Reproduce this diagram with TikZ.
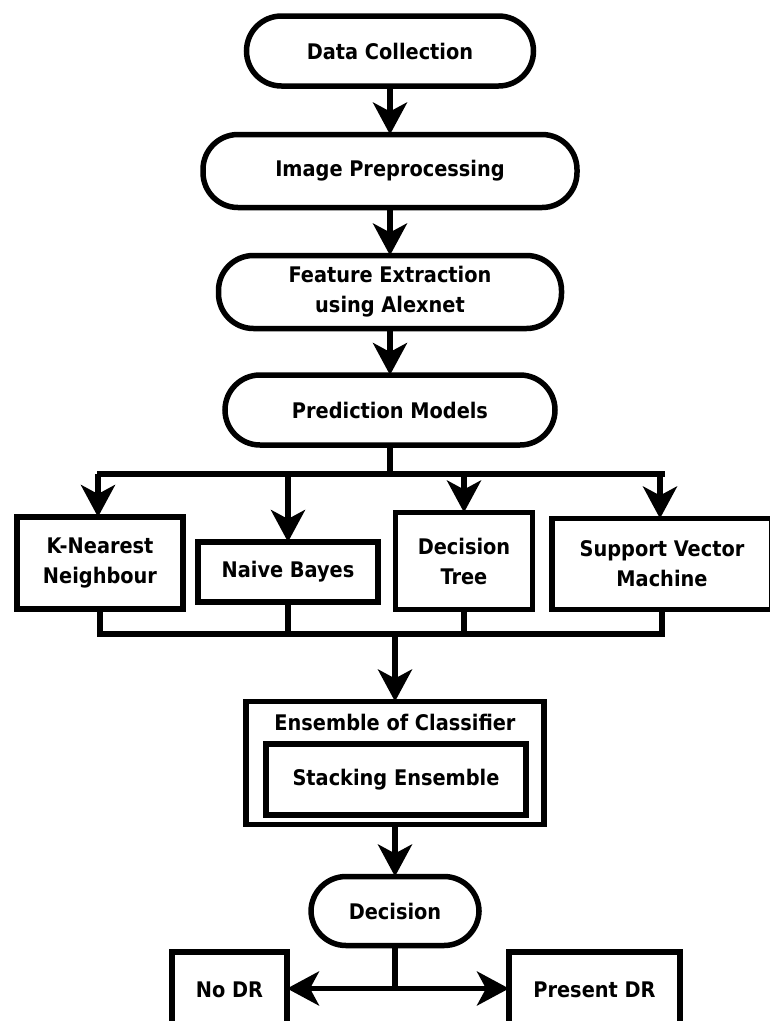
\documentclass[tikz,border=0pt]{standalone}
\usepackage{fontspec}
\setmainfont{DejaVu Sans Condensed}
\usetikzlibrary{arrows.meta}
\begin{document}
\begin{tikzpicture}[x=1pt,y=1pt,
  every node/.style={font=\bfseries\fontsize{21.5}{30}\selectfont, align=center, inner sep=0pt, outer sep=0pt},
  lw/.style={line width=5.5pt},
  stadium/.style={lw, draw, rectangle, rounded corners=35pt},
  boxx/.style={lw, draw, rectangle},
  arr/.style={lw, -{Stealth[length=32pt,width=34pt,inset=9pt]}},
  ln/.style={lw}
]
\useasboundingbox (0,0) rectangle (770,-1021);
\clip (0,0) rectangle (770,-1021);

\node[stadium, minimum width=287pt, minimum height=70pt] (dc) at (390,-51) {Data Collection};
\node[stadium, minimum width=374pt, minimum height=73pt] (ip) at (390,-171) {Image Preprocessing};
\node[stadium, minimum width=343pt, minimum height=73pt] (fe) at (390,-292) {Feature Extraction\\using Alexnet};
\node[stadium, minimum width=330pt, minimum height=70pt] (pm) at (390,-410) {Prediction Models};

\node[boxx, minimum width=166pt, minimum height=92pt] (knn) at (100,-563) {K-Nearest\\Neighbour};
\node[boxx, minimum width=180pt, minimum height=60pt] (nb) at (288,-572) {Naive Bayes};
\node[boxx, minimum width=137pt, minimum height=97pt] (dt) at (464,-561) {Decision\\Tree};
\node[boxx, minimum width=220pt, minimum height=91pt] (svm) at (662,-564) {Support Vector\\Machine};

\node[boxx, minimum width=298pt, minimum height=123pt] (ens) at (395,-763) {};
\node (enst) at (395,-722) {Ensemble of Classifier};
\node[boxx, minimum width=260pt, minimum height=71pt] (stk) at (396,-779.5) {Stacking Ensemble};

\node[stadium, minimum width=168pt, minimum height=69pt] (dec) at (395,-911) {Decision};

\node[boxx, minimum width=115pt, minimum height=76pt] (nodr) at (229.5,-990) {No DR};
\node[boxx, minimum width=171pt, minimum height=76pt] (pdr) at (594.5,-990) {Present DR};

\draw[arr] (dc.south) -- (ip.north);
\draw[arr] (ip.south) -- (fe.north);
\draw[arr] (fe.south) -- (pm.north);

\draw[ln] (pm.south) -- ++(0,-29) coordinate (b0);
\draw[ln] ([xshift=-2.75pt]knn.north |- b0) -- ([xshift=2.75pt]svm.north |- b0);
\draw[arr] ([xshift=-2pt]knn.north |- b0) -- ([xshift=-2pt]knn.north);
\draw[arr] (nb.north |- b0) -- (nb.north);
\draw[arr] (dt.north |- b0) -- (dt.north);
\draw[arr] ([xshift=-2pt]svm.north |- b0) -- ([xshift=-2pt]svm.north);

\coordinate (b1) at (395,-634);
\draw[ln] (knn.south) -- (knn.south |- b1);
\draw[ln] (nb.south) -- (nb.south |- b1);
\draw[ln] (dt.south) -- (dt.south |- b1);
\draw[ln] (svm.south) -- (svm.south |- b1);
\draw[ln] ([xshift=-2.75pt]knn.south |- b1) -- ([xshift=2.75pt]svm.south |- b1);
\draw[arr] (b1) -- (ens.north);

\draw[arr] (ens.south) -- (dec.north);
\draw[ln] (dec.south) -- ++(0,-43) coordinate (d0);
\draw[arr] ([xshift=2.75pt]d0) -- (nodr.east |- d0);
\draw[arr] ([xshift=-2.75pt]d0) -- (pdr.west |- d0);
\end{tikzpicture}
\end{document}
